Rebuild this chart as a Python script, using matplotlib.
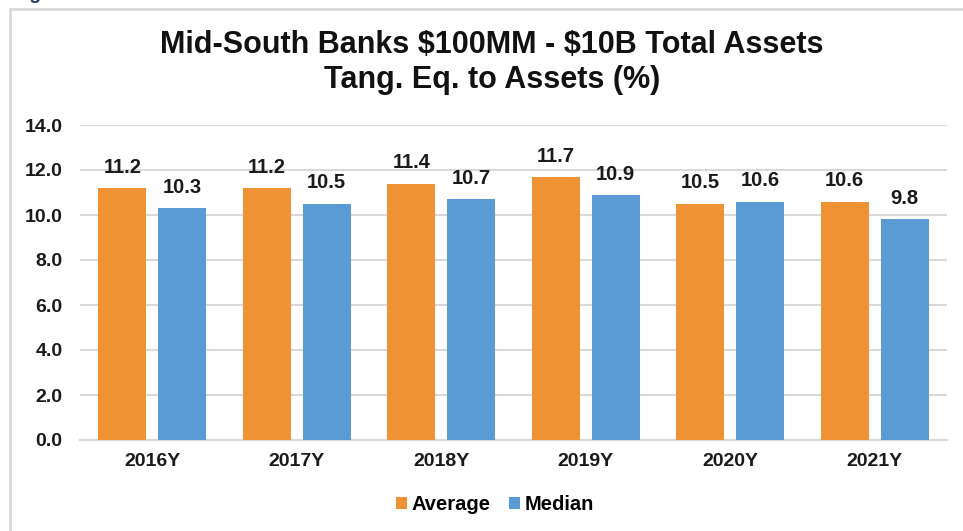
import matplotlib.pyplot as plt
import numpy as np
from matplotlib.patches import Rectangle

categories = ["2016Y", "2017Y", "2018Y", "2019Y", "2020Y", "2021Y"]
average = [11.2, 11.2, 11.4, 11.7, 10.5, 10.6]
median = [10.3, 10.5, 10.7, 10.9, 10.6, 9.8]
yticks = [0, 2, 4, 6, 8, 10, 12, 14]

plt.rcParams['font.family'] = ['Liberation Sans', 'DejaVu Sans']
plt.rcParams['text.parse_math'] = False

W, H = 963, 531
fig = plt.figure(figsize=(W / 100, H / 100), dpi=100)
fig.patch.set_facecolor('white')

# frame around chart
fig.add_artist(Rectangle((10 / W, -0.05), 1.2, (H - 9) / H + 0.05, transform=fig.transFigure,
                         fill=False, edgecolor='#d9d9d9', lw=2))
# partially cut caption at top-left
fig.text(12 / W, 1 + 1 / H, "Figure 9", color='#1F3864', fontsize=14, fontweight='bold',
         ha='left', va='baseline')

ax = fig.add_axes([80 / W, 1 - 440 / H, (947 - 80) / W, (440 - 125) / H])
x = np.arange(len(categories))
bw = 0.332
off = 0.2076
c_avg = '#EE9233'
c_med = '#5B9BD5'
b1 = ax.bar(x - off, average, bw, color=c_avg, label='Average', zorder=3)
b2 = ax.bar(x + off, median, bw, color=c_med, label='Median', zorder=3)

for bars, vals in ((b1, average), (b2, median)):
    for r, v in zip(bars, vals):
        ax.text(r.get_x() + r.get_width() / 2, v + 0.5, f"{v:.1f}", ha='center', va='bottom',
                fontsize=14.5, fontweight='bold', color='#1a1a1a')

ax.set_xlim(-0.5, len(categories) - 0.5)
ax.set_ylim(0, 14)
ax.set_yticks(yticks)
ax.set_yticklabels([f"{t:.1f}" for t in yticks])
ax.set_xticks(x)
ax.set_xticklabels(categories)
ax.grid(axis='y', color='#d9d9d9', lw=1.5, zorder=0)
for s in ['top', 'right', 'left']:
    ax.spines[s].set_visible(False)
ax.spines['bottom'].set_color('#d9d9d9')
ax.spines['bottom'].set_linewidth(1.5)
ax.tick_params(axis='both', length=0, labelsize=14, colors='#1a1a1a')
ax.tick_params(axis='y', pad=12.5)
ax.tick_params(axis='x', pad=9)
for lab in ax.get_xticklabels() + ax.get_yticklabels():
    lab.set_fontweight('bold')

fig.text(492 / W, 1 - 45 / H, "Mid-South Banks $100MM - $10B Total Assets", ha='center', va='center',
         fontsize=22, fontweight='bold', color='#111111')
fig.text(492 / W, 1 - 80 / H, "Tang. Eq. to Assets (%)", ha='center', va='center',
         fontsize=22, fontweight='bold', color='#111111')

fig.legend(handles=[b1, b2], labels=['Average', 'Median'], loc='center',
           bbox_to_anchor=(495 / W, 1 - 505 / H), ncol=2, frameon=False,
           handlelength=0.55, handleheight=0.55, handletextpad=0.25, columnspacing=0.9,
           prop={'size': 14.5, 'weight': 'bold'})

fig.savefig('out.png', dpi=100, facecolor='white')
